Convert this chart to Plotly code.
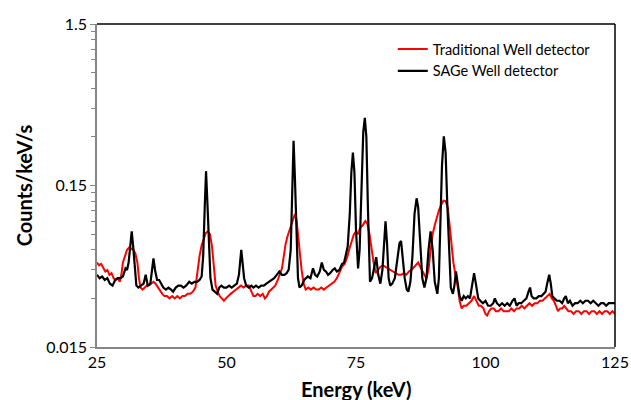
import plotly.graph_objects as go

# ---- data ----
sage_energy = [25.0, 25.5, 26.0, 26.5, 27.0, 27.5, 28.0, 28.5, 29.0, 29.5, 30.0, 30.5, 30.8, 31.1, 31.4, 31.7, 32.0, 32.3, 32.6, 33.0,
               33.5, 34.0, 34.4, 34.8, 35.3, 35.6, 35.9, 36.2, 36.6, 37.0, 37.4, 37.8, 38.3, 38.8, 39.3, 39.7, 40.2, 40.7, 41.2, 41.7,
               42.2, 42.8, 43.3, 43.8, 44.3, 44.8, 45.2, 45.5, 45.8, 46.05, 46.3, 46.6, 46.9, 47.3, 47.8, 48.2, 48.6, 49.0, 49.5, 50.0,
               50.5, 51.0, 51.5, 52.0, 52.4, 52.6, 52.85, 53.1, 53.4, 53.8, 54.3, 54.8, 55.2, 55.7, 56.2, 56.7, 57.2, 57.7, 58.2, 58.7,
               59.2, 59.7, 60.2, 60.7, 61.2, 61.6, 62.0, 62.4, 62.7, 62.95, 63.2, 63.5, 63.8, 64.1, 64.5, 65.0, 65.3, 65.7, 66.2, 66.7,
               67.1, 67.5, 68.0, 68.4, 68.8, 69.2, 69.6, 70.0, 70.5, 70.9, 71.3, 71.8, 72.3, 72.7, 73.0, 73.4, 73.8, 74.1, 74.4, 74.7,
               75.0, 75.4, 75.7, 76.0, 76.4, 76.7, 77.0, 77.3, 77.7, 78.1, 78.5, 78.9, 79.3, 79.7, 80.1, 80.4, 80.7, 81.0, 81.3, 81.6,
               82.0, 82.5, 83.0, 83.4, 83.7, 84.0, 84.4, 84.8, 85.1, 85.5, 85.9, 86.3, 86.7, 87.0, 87.4, 87.8, 88.2, 88.6, 89.0, 89.4,
               89.8, 90.2, 90.7, 91.0, 91.3, 91.6, 91.95, 92.3, 92.6, 93.0, 93.3, 93.7, 94.0, 94.3, 94.6, 95.0, 95.4, 95.8, 96.2, 96.6,
               97.0, 97.4, 97.8, 98.2, 98.6, 99.0, 99.5, 100.0, 100.5, 101.0, 101.5, 101.8, 102.2, 102.7, 103.2, 103.7, 104.2, 104.7, 105.2, 105.6,
               106.0, 106.4, 106.9, 107.4, 107.9, 108.3, 108.6, 108.9, 109.3, 109.8, 110.3, 110.8, 111.2, 111.6, 111.9, 112.3, 112.6, 112.9, 113.3, 113.8,
               114.3, 114.8, 115.2, 115.5, 115.9, 116.3, 116.8, 117.3, 117.8, 118.3, 118.8, 119.3, 119.8, 120.3, 120.8, 121.3, 121.8, 122.3, 122.8, 123.3,
               123.8, 124.3, 125.0]
sage_counts = [0.042, 0.040, 0.041, 0.039, 0.040, 0.037, 0.036, 0.039, 0.040, 0.040, 0.041, 0.046, 0.045, 0.050, 0.062, 0.078, 0.062, 0.045, 0.036, 0.035,
               0.036, 0.037, 0.042, 0.036, 0.037, 0.045, 0.053, 0.045, 0.039, 0.039, 0.037, 0.035, 0.034, 0.035, 0.034, 0.033, 0.035, 0.036, 0.036, 0.035,
               0.036, 0.038, 0.037, 0.038, 0.038, 0.039, 0.041, 0.055, 0.110, 0.184, 0.120, 0.060, 0.040, 0.034, 0.033, 0.032, 0.035, 0.036, 0.035, 0.035,
               0.036, 0.035, 0.036, 0.037, 0.042, 0.052, 0.060, 0.050, 0.040, 0.036, 0.035, 0.036, 0.035, 0.036, 0.035, 0.036, 0.036, 0.037, 0.038, 0.039,
               0.040, 0.042, 0.044, 0.042, 0.042, 0.043, 0.045, 0.060, 0.140, 0.284, 0.170, 0.070, 0.040, 0.035, 0.036, 0.039, 0.040, 0.041, 0.040, 0.046,
               0.042, 0.041, 0.044, 0.050, 0.045, 0.044, 0.042, 0.043, 0.045, 0.046, 0.044, 0.045, 0.049, 0.050, 0.055, 0.063, 0.100, 0.180, 0.240, 0.180,
               0.080, 0.046, 0.060, 0.140, 0.320, 0.394, 0.300, 0.110, 0.038, 0.040, 0.048, 0.054, 0.042, 0.037, 0.045, 0.070, 0.090, 0.065, 0.040, 0.036,
               0.037, 0.040, 0.052, 0.066, 0.068, 0.055, 0.040, 0.034, 0.033, 0.038, 0.055, 0.100, 0.125, 0.110, 0.060, 0.040, 0.035, 0.040, 0.060, 0.078,
               0.060, 0.038, 0.032, 0.040, 0.090, 0.200, 0.302, 0.240, 0.120, 0.050, 0.035, 0.032, 0.036, 0.044, 0.037, 0.031, 0.029, 0.031, 0.030, 0.031,
               0.030, 0.035, 0.043, 0.036, 0.030, 0.029, 0.028, 0.029, 0.027, 0.027, 0.028, 0.030, 0.028, 0.027, 0.028, 0.027, 0.028, 0.027, 0.029, 0.030,
               0.027, 0.028, 0.028, 0.029, 0.030, 0.033, 0.035, 0.031, 0.030, 0.030, 0.031, 0.031, 0.032, 0.033, 0.037, 0.042, 0.037, 0.031, 0.030, 0.029,
               0.029, 0.028, 0.030, 0.031, 0.028, 0.029, 0.027, 0.028, 0.028, 0.029, 0.028, 0.029, 0.029, 0.028, 0.029, 0.028, 0.027, 0.028, 0.028, 0.027,
               0.028, 0.028, 0.028]

trad_energy = [25.0, 25.4, 25.8, 26.2, 26.6, 27.0, 27.4, 27.8, 28.2, 28.6, 29.0, 29.4, 29.7, 30.0, 30.4, 30.8, 31.2, 31.6, 32.0, 32.4,
               32.8, 33.1, 33.4, 33.8, 34.2, 34.6, 35.0, 35.5, 35.9, 36.3, 36.8, 37.2, 37.6, 38.0, 38.5, 39.0, 39.5, 40.0, 40.5, 41.0,
               41.5, 42.0, 42.5, 43.0, 43.5, 44.0, 44.4, 44.8, 45.2, 45.6, 46.0, 46.4, 46.8, 47.2, 47.6, 47.9, 48.3, 48.7, 49.1, 49.5,
               49.9, 50.3, 50.8, 51.3, 51.8, 52.3, 52.8, 53.3, 53.8, 54.3, 54.8, 55.2, 55.6, 56.0, 56.5, 57.0, 57.4, 57.8, 58.2, 58.6,
               59.0, 59.4, 59.9, 60.3, 60.7, 61.0, 61.4, 61.8, 62.2, 62.6, 63.0, 63.2, 63.5, 63.8, 64.1, 64.5, 64.9, 65.3, 65.8, 66.3,
               66.8, 67.3, 67.8, 68.3, 68.8, 69.3, 69.8, 70.3, 70.8, 71.3, 71.8, 72.3, 72.8, 73.3, 73.8, 74.2, 74.6, 75.0, 75.4, 75.8,
               76.3, 76.8, 77.2, 77.6, 78.0, 78.4, 78.8, 79.2, 79.7, 80.2, 80.7, 81.2, 81.7, 82.2, 82.7, 83.2, 83.7, 84.2, 84.7, 85.2,
               85.7, 86.2, 86.7, 87.0, 87.4, 87.8, 88.2, 88.6, 89.0, 89.4, 89.8, 90.2, 90.6, 91.0, 91.5, 91.9, 92.3, 92.7, 93.0, 93.4,
               93.8, 94.2, 94.6, 95.0, 95.4, 95.8, 96.3, 96.8, 97.3, 97.8, 98.2, 98.7, 99.1, 99.6, 100.0, 100.3, 100.7, 101.1, 101.6, 102.0,
               102.5, 103.0, 103.5, 104.0, 104.5, 105.0, 105.5, 106.0, 106.5, 107.0, 107.5, 108.0, 108.5, 109.0, 109.5, 110.0, 110.5, 111.0, 111.5, 112.0,
               112.4, 112.8, 113.2, 113.6, 114.0, 114.4, 114.8, 115.2, 115.6, 116.0, 116.5, 117.0, 117.5, 118.0, 118.5, 119.0, 119.5, 120.0, 120.5, 121.0,
               121.5, 122.0, 122.5, 123.0, 123.5, 124.0, 124.5, 125.0]
trad_counts = [0.050, 0.048, 0.049, 0.046, 0.044, 0.045, 0.042, 0.043, 0.040, 0.039, 0.040, 0.038, 0.042, 0.050, 0.055, 0.060, 0.062, 0.061, 0.060, 0.057,
               0.050, 0.040, 0.035, 0.034, 0.035, 0.036, 0.036, 0.037, 0.038, 0.037, 0.035, 0.033, 0.032, 0.031, 0.031, 0.030, 0.031, 0.030, 0.031, 0.030,
               0.031, 0.031, 0.032, 0.032, 0.033, 0.035, 0.045, 0.055, 0.064, 0.070, 0.076, 0.078, 0.075, 0.063, 0.048, 0.036, 0.033, 0.031, 0.030, 0.029,
               0.030, 0.031, 0.032, 0.033, 0.034, 0.035, 0.036, 0.035, 0.036, 0.036, 0.033, 0.031, 0.031, 0.032, 0.031, 0.032, 0.030, 0.031, 0.033, 0.034,
               0.035, 0.036, 0.039, 0.042, 0.046, 0.053, 0.065, 0.073, 0.080, 0.088, 0.098, 0.100, 0.093, 0.078, 0.060, 0.045, 0.037, 0.034, 0.035, 0.034,
               0.035, 0.034, 0.034, 0.035, 0.034, 0.035, 0.036, 0.037, 0.038, 0.040, 0.043, 0.047, 0.049, 0.054, 0.062, 0.068, 0.075, 0.078, 0.075, 0.082,
               0.085, 0.0905, 0.087, 0.075, 0.060, 0.050, 0.043, 0.045, 0.047, 0.048, 0.047, 0.046, 0.045, 0.044, 0.043, 0.042, 0.042, 0.043, 0.042, 0.044,
               0.045, 0.047, 0.049, 0.050, 0.047, 0.044, 0.042, 0.040, 0.045, 0.060, 0.075, 0.085, 0.095, 0.105, 0.115, 0.121, 0.120, 0.110, 0.090, 0.065,
               0.050, 0.042, 0.036, 0.029, 0.026, 0.027, 0.027, 0.028, 0.029, 0.031, 0.029, 0.027, 0.027, 0.026, 0.024, 0.0235, 0.025, 0.026, 0.026, 0.025,
               0.025, 0.026, 0.025, 0.025, 0.025, 0.026, 0.025, 0.026, 0.026, 0.027, 0.026, 0.027, 0.028, 0.027, 0.028, 0.028, 0.029, 0.029, 0.030, 0.031,
               0.032, 0.030, 0.029, 0.027, 0.025, 0.026, 0.026, 0.027, 0.026, 0.025, 0.025, 0.024, 0.025, 0.025, 0.024, 0.025, 0.025, 0.024, 0.025, 0.025,
               0.024, 0.025, 0.024, 0.025, 0.025, 0.024, 0.025, 0.024]

x_ticks = [25, 50, 75, 100, 125]
y_ticks = [0.015, 0.15, 1.5]
y_tick_labels = ["0.015", "0.15", "1.5"]
y_minor = [0.015 * k for k in range(2, 10)] + [0.15 * k for k in range(2, 10)]

FONT = "Lato"
GRAY = "#868686"

fig = go.Figure()
fig.add_trace(go.Scatter(x=trad_energy, y=trad_counts, mode="lines",
                         name="Traditional Well detector",
                         line=dict(color="#ff0000", width=2)))
fig.add_trace(go.Scatter(x=sage_energy, y=sage_counts, mode="lines",
                         name="SAGe Well detector",
                         line=dict(color="#000000", width=2.2)))

fig.update_layout(
    width=631, height=400,
    margin=dict(l=97, r=16, t=24, b=53),
    paper_bgcolor="white", plot_bgcolor="white",
    font=dict(family=FONT, size=15, color="#000000"),
    showlegend=True,
    legend=dict(x=0.571, y=0.972, xanchor="left", yanchor="top",
                bgcolor="rgba(0,0,0,0)", font=dict(family=FONT, size=14.5),
                itemwidth=30, tracegroupgap=0),
    shapes=[
        dict(type="line", xref="paper", yref="paper", x0=0, x1=1, y0=1, y1=1,
             line=dict(color="black", width=1.5)),
        dict(type="line", xref="paper", yref="paper", x0=1, x1=1, y0=0, y1=1,
             line=dict(color="black", width=1.5)),
    ],
    annotations=[
        dict(text="<b>Energy (keV)</b>", xref="paper", yref="paper", x=0.5, y=-0.131,
             xanchor="center", yanchor="middle", showarrow=False,
             font=dict(family=FONT, size=20, color="#000000")),
    ],
)

fig.update_xaxes(
    range=[25, 125], tickvals=x_ticks, ticks="", showgrid=False, zeroline=False,
    showline=True, linecolor=GRAY, linewidth=1.5,
    tickfont=dict(family=FONT, size=16),
    automargin=False,
)
fig.update_yaxes(
    type="log", range=[-1.8239, 0.1761], tickvals=y_ticks, ticktext=y_tick_labels,
    ticks="outside", ticklen=5, tickcolor=GRAY, tickwidth=1,
    minor=dict(tickmode="array", tickvals=y_minor, ticks="outside", ticklen=4,
               tickcolor=GRAY, tickwidth=1, showgrid=False),
    showgrid=False, zeroline=False, showline=True, linecolor=GRAY, linewidth=1.5,
    tickfont=dict(family=FONT, size=16),
    title=dict(text="<b>Counts/keV/s</b>", font=dict(family=FONT, size=20), standoff=8),
    automargin=False,
)

fig.write_html("out.html")
